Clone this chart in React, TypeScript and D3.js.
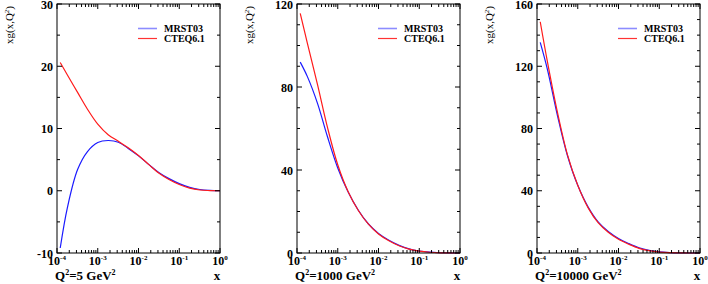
import React from 'react';
import * as d3 from 'd3';

// x grid (quarter decades), shared by all curves
const xValues = [1.2e-4, 1.8e-4, 3.2e-4, 5.6e-4, 1e-3, 1.8e-3, 3.2e-3, 5.6e-3, 1e-2, 1.8e-2, 3.2e-2, 5.6e-2, 0.1, 0.18, 0.32, 0.56, 1];

// Q^2 = 5 GeV^2
const q5Mrst = [-9.2, -2.7, 3.4, 6.3, 7.75, 8.07, 7.8, 6.8, 5.6, 4.2, 2.9, 1.95, 1.15, 0.55, 0.2, 0.05, 0];
const q5Cteq = [20.6, 18.6, 15.8, 13.1, 10.7, 9.0, 7.95, 6.9, 5.65, 4.2, 2.8, 1.8, 1.0, 0.42, 0.12, 0.03, 0];

// Q^2 = 1000 GeV^2
const q1000Mrst = [92, 85, 72, 56, 41, 29.4, 20.6, 14.1, 9.4, 6.1, 3.7, 2.0, 0.95, 0.38, 0.12, 0.02, 0];
const q1000Cteq = [115.5, 101, 81, 60.5, 42.5, 29.5, 20.5, 14, 9.2, 5.9, 3.5, 1.9, 0.9, 0.35, 0.1, 0.02, 0];

// Q^2 = 10000 GeV^2
const q10000Mrst = [135.3, 118, 88, 62.5, 43.5, 29.5, 19.8, 13.8, 9.3, 6.0, 3.3, 1.65, 0.68, 0.24, 0.06, 0.01, 0];
const q10000Cteq = [148.6, 123, 90, 63, 43.5, 29, 19.3, 13.3, 8.8, 5.6, 3.0, 1.5, 0.6, 0.2, 0.05, 0.01, 0];

const seriesNames = ['MRST03', 'CTEQ6.1'];
const seriesColors = ['#1a1aff', '#ff1a1a'];
const legendColors = ['#8c8cff', '#ff3333'];

const q2Labels = ['5', '1000', '10000'];
const yDomains: [number, number][] = [[-10, 30], [0, 120], [0, 160]];
const yMajorTicks = [[-10, 0, 10, 20, 30], [0, 40, 80, 120], [0, 40, 80, 120, 160]];
const yMinorSteps = [5, 10, 10];
const xDecades = [1e-4, 1e-3, 1e-2, 1e-1, 1];
const xDecadeExps = ['-4', '-3', '-2', '-1', '0'];

const panelData = [
  [q5Mrst, q5Cteq],
  [q1000Mrst, q1000Cteq],
  [q10000Mrst, q10000Cteq],
];

const FONT = '"Liberation Serif", "DejaVu Serif", serif';

function Panel({ idx }: { idx: number }) {
  const left = 57 + 240 * idx;
  const right = left + 163;
  const top = 4;
  const bottom = 253;
  const x = d3.scaleLog().domain([1e-4, 1]).range([left, right]);
  const y = d3.scaleLinear().domain(yDomains[idx]).range([bottom, top]);
  const line = d3
    .line<number>()
    .x((_, i) => x(xValues[i]))
    .y((d) => y(d))
    .curve(d3.curveCatmullRom.alpha(0.5));

  const [y0, y1] = yDomains[idx];
  const step = yMinorSteps[idx];
  const yMinor: number[] = [];
  for (let v = y0; v <= y1 + 1e-9; v += step) yMinor.push(v);
  const xMinor: number[] = [];
  for (let e = -4; e < 0; e++) {
    for (let m = 2; m <= 9; m++) xMinor.push(m * Math.pow(10, e));
  }

  const legX = left + 81;
  const legY = [28.5, 38.5];

  return (
    <g>
      {panelData[idx].map((vals, s) => (
        <path key={s} d={line(vals) || ''} fill="none" stroke={seriesColors[s]} strokeWidth={1.2} />
      ))}
      <rect x={left} y={top} width={right - left} height={bottom - top} fill="none" stroke="#000" strokeWidth={1} />
      {yMinor.map((v) => {
        const major = yMajorTicks[idx].includes(v);
        const len = major ? 5 : 3;
        return (
          <g key={'y' + v}>
            <line x1={left} x2={left + len} y1={y(v)} y2={y(v)} stroke="#000" strokeWidth={1} />
            <line x1={right} x2={right - len} y1={y(v)} y2={y(v)} stroke="#000" strokeWidth={1} />
          </g>
        );
      })}
      {xDecades.map((v) => (
        <g key={'xd' + v}>
          <line x1={x(v)} x2={x(v)} y1={bottom} y2={bottom - 5} stroke="#000" strokeWidth={1} />
          <line x1={x(v)} x2={x(v)} y1={top} y2={top + 5} stroke="#000" strokeWidth={1} />
        </g>
      ))}
      {xMinor.map((v) => (
        <g key={'xm' + v}>
          <line x1={x(v)} x2={x(v)} y1={bottom} y2={bottom - 3} stroke="#000" strokeWidth={1} />
          <line x1={x(v)} x2={x(v)} y1={top} y2={top + 3} stroke="#000" strokeWidth={1} />
        </g>
      ))}
      {yMajorTicks[idx].map((v) => (
        <text key={'yl' + v} x={left - 4} y={y(v) + 4.5} textAnchor="end" fontFamily={FONT} fontWeight="bold" fontSize={12} fill="#000">
          {v}
        </text>
      ))}
      {xDecades.map((v, i) => (
        <text key={'xl' + v} x={x(v)} y={265} textAnchor="middle" fontFamily={FONT} fontWeight="bold" fontSize={12} fill="#000">
          <tspan>10</tspan>
          <tspan dy={-5} fontSize={7}>{xDecadeExps[i]}</tspan>
        </text>
      ))}
      <text transform={`translate(${left - 44},44) rotate(-90)`} fontFamily={FONT} fontSize={11} fill="#000">
        xg(x,Q<tspan dy={-4} fontSize={7}>2</tspan>
        <tspan dy={4}>)</tspan>
      </text>
      <text x={left - 2} y={280} fontFamily={FONT} fontWeight="bold" fontSize={13} fill="#000">
        Q<tspan dy={-5} fontSize={8}>2</tspan>
        <tspan dy={5}>={q2Labels[idx]} GeV</tspan>
        <tspan dy={-5} fontSize={8}>2</tspan>
      </text>
      <text x={right - 3} y={280} textAnchor="middle" fontFamily={FONT} fontWeight="bold" fontSize={13} fill="#000">
        x
      </text>
      {seriesNames.map((n, s) => (
        <g key={n}>
          <line x1={legX} x2={legX + 19} y1={legY[s]} y2={legY[s]} stroke={legendColors[s]} strokeWidth={s === 0 ? 1.6 : 1.2} />
          <text x={legX + 26} y={legY[s] + 3.5} fontFamily={FONT} fontWeight="bold" fontSize={10} fill="#000">
            {n}
          </text>
        </g>
      ))}
    </g>
  );
}

export default function App() {
  return (
    <svg width={708} height={284} style={{ position: 'absolute', left: 0, top: 0, background: '#fff' }}>
      <rect x={0} y={0} width={708} height={284} fill="#fff" />
      {[0, 1, 2].map((i) => (
        <Panel key={i} idx={i} />
      ))}
    </svg>
  );
}
